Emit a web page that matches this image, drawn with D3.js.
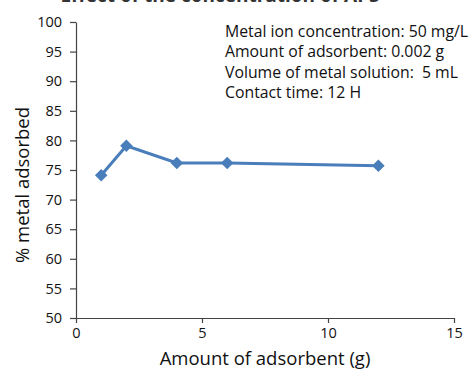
<!DOCTYPE html>
<html lang="en">
<head>
<meta charset="utf-8">
<script src="https://d3js.org/d3.v7.min.js"></script>
<style>
  body { margin: 0; background: #fff; }
  svg text { font-family: "Open Sans", "Noto Sans", sans-serif; fill: #111; }
  .axis path, .axis line { stroke: #444; stroke-width: 1.2; }
  .axis text { font-size: 14.5px; }
  .note { white-space: pre; }
</style>
</head>
<body>
<script>
// data
var adsorbent = [1, 2, 4, 6, 12];
var adsorbed = [74.1, 79.1, 76.2, 76.2, 75.7];
var xTicks = [0, 5, 10, 15];
var yTicks = [50, 55, 60, 65, 70, 75, 80, 85, 90, 95, 100];
var notes = ["Metal ion concentration: 50 mg/L", "Amount of adsorbent: 0.002 g",
             "Volume of metal solution:  5 mL", "Contact time: 12 H"];

var width = 469, height = 369;
var svg = d3.select("body").append("svg")
  .attr("width", width).attr("height", height);

var x = d3.scaleLinear().domain([0, 15]).range([76, 454]);
var y = d3.scaleLinear().domain([50, 100]).range([318, 22]);

// title, mostly cut off at the top
svg.append("text")
  .attr("x", 220).attr("y", 2)
  .attr("text-anchor", "middle")
  .style("font-size", "19px").style("font-weight", "bold").style("fill", "#333")
  .text("Effect of the concentration of APS");

svg.append("g").attr("class", "axis")
  .attr("transform", "translate(0," + y(50) + ")")
  .call(d3.axisBottom(x).tickValues(xTicks).tickSize(5).tickPadding(5).tickSizeOuter(0));

svg.append("g").attr("class", "axis")
  .attr("transform", "translate(" + x(0) + ",0)")
  .call(d3.axisLeft(y).tickValues(yTicks).tickSize(6).tickPadding(8).tickSizeOuter(0));

var pts = adsorbent.map(function(d, i) { return [d, adsorbed[i]]; });

svg.append("path")
  .datum(pts)
  .attr("fill", "none")
  .attr("stroke", "#4a7ebb")
  .attr("stroke-width", 3)
  .attr("d", d3.line().x(function(d) { return x(d[0]); }).y(function(d) { return y(d[1]); }));

svg.selectAll(".pt").data(pts).enter().append("path")
  .attr("class", "pt")
  .attr("transform", function(d) { return "translate(" + x(d[0]) + "," + y(d[1]) + ")"; })
  .attr("d", d3.symbol().type(d3.symbolDiamond2).size(100))
  .attr("fill", "#4a7ebb");

// condition notes
svg.selectAll(".note").data(notes).enter().append("text")
  .attr("class", "note")
  .attr("x", 225)
  .attr("y", function(d, i) { return 37 + i * 20.3; })
  .style("font-size", "15.8px")
  .text(function(d) { return d; });

svg.append("text")
  .attr("x", 265).attr("y", 365)
  .attr("text-anchor", "middle")
  .style("font-size", "18.5px")
  .text("Amount of adsorbent (g)");

svg.append("text")
  .attr("transform", "translate(29,185) rotate(-90)")
  .attr("text-anchor", "middle")
  .style("font-size", "18.5px")
  .text("% metal adsorbed");
</script>
</body>
</html>
